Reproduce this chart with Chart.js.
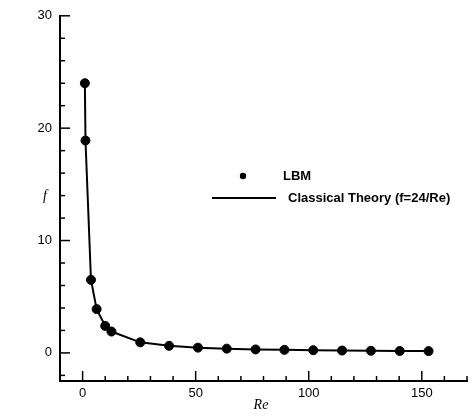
<!DOCTYPE html>
<html>
<head>
<meta charset="utf-8">
<script src="https://cdn.jsdelivr.net/npm/chart.js@4"></script>
<style>
  html,body{margin:0;padding:0;background:#fff;}
  #wrap{width:474px;height:419px;}
</style>
</head>
<body>
<div id="wrap"><canvas id="myChart" width="474" height="419"></canvas></div>
<script>
// data
let reValues=[1,1.27,3.7,6.2,10,12.75,25.5,38.25,51,63.75,76.5,89.25,102,114.75,127.5,140.25,153];
let lbmF=[24.0,18.9,6.5,3.9,2.4,1.9,0.94,0.63,0.47,0.38,0.31,0.27,0.24,0.21,0.19,0.17,0.16];
let theoryF=[24.0,18.9,6.5,3.9,2.4,1.9,0.94,0.63,0.47,0.38,0.31,0.27,0.24,0.21,0.19,0.17,0.16];
let xTicks=[0,50,100,150];
let yTicks=[0,10,20,30];
let legendNames=["LBM","Classical Theory (f=24/Re)"];

function pts(xs,ys){
  let out=[];
  for(let i=0;i<xs.length;i++){ out.push({x:xs[i],y:ys[i]}); }
  return out;
}

// inward ticks, axis titles, legend
const extras={
  id:'extras',
  afterDraw(chart){
    const ctx=chart.ctx;
    const xs=chart.scales.x, ys=chart.scales.y;
    const a=chart.chartArea;
    ctx.save();
    ctx.strokeStyle='#000';
    ctx.lineWidth=1.5;
    for(let v=-2;v<=30;v+=2){
      let y=ys.getPixelForValue(v);
      let len=(v%10===0)?10:5;
      ctx.beginPath();ctx.moveTo(a.left,y);ctx.lineTo(a.left+len,y);ctx.stroke();
    }
    for(let v=-10;v<=170;v+=10){
      let x=xs.getPixelForValue(v);
      let len=(v%50===0)?10:5;
      ctx.beginPath();ctx.moveTo(x,a.bottom);ctx.lineTo(x,a.bottom-len);ctx.stroke();
    }
    // axis titles
    ctx.fillStyle='#000';
    ctx.font='italic 14px "Liberation Serif", serif';
    ctx.textAlign='center';ctx.textBaseline='middle';
    ctx.fillText('f',45,196);
    ctx.fillText('Re',261,405);
    // legend
    ctx.beginPath();ctx.arc(243,176,3.2,0,Math.PI*2);ctx.fill();
    ctx.lineWidth=2;
    ctx.beginPath();ctx.moveTo(212,198);ctx.lineTo(276,198);ctx.stroke();
    ctx.font='bold 13px "Liberation Sans", Arial, sans-serif';
    ctx.textAlign='left';
    ctx.fillText(legendNames[0],283,176);
    ctx.fillText(legendNames[1],288,198);
    ctx.restore();
  }
};

const ctx=document.getElementById('myChart').getContext('2d');
const myChart=new Chart(ctx,{
  type:'scatter',
  data:{
    datasets:[
      {
        label:legendNames[1],
        data:pts(reValues,theoryF),
        showLine:true,
        borderColor:'#000',
        borderWidth:2,
        pointRadius:0,
        fill:false
      },
      {
        label:legendNames[0],
        data:pts(reValues,lbmF),
        showLine:false,
        backgroundColor:'#000',
        borderColor:'#000',
        pointRadius:4.5,
        pointHoverRadius:4.5
      }
    ]
  },
  options:{
    responsive:false,
    animation:false,
    layout:{padding:{top:11,right:7,left:0,bottom:0}},
    plugins:{legend:{display:false},tooltip:{enabled:false}},
    scales:{
      x:{
        type:'linear',min:-10,max:170,
        afterBuildTicks:(s)=>{ s.ticks=xTicks.map(v=>({value:v})); },
        afterFit:(s)=>{ s.height=38; },
        grid:{display:false,drawTicks:false},
        border:{display:true,color:'#000',width:2},
        ticks:{color:'#000',padding:5,maxRotation:0,font:{family:'"Liberation Sans", Arial, sans-serif',size:13}}
      },
      y:{
        min:-2.5,max:30,
        afterBuildTicks:(s)=>{ s.ticks=yTicks.map(v=>({value:v})); },
        afterFit:(s)=>{ s.width=60; },
        grid:{display:false,drawTicks:false},
        border:{display:true,color:'#000',width:2},
        ticks:{color:'#000',padding:8,font:{family:'"Liberation Sans", Arial, sans-serif',size:13}}
      }
    }
  },
  plugins:[extras]
});
</script>
</body>
</html>
